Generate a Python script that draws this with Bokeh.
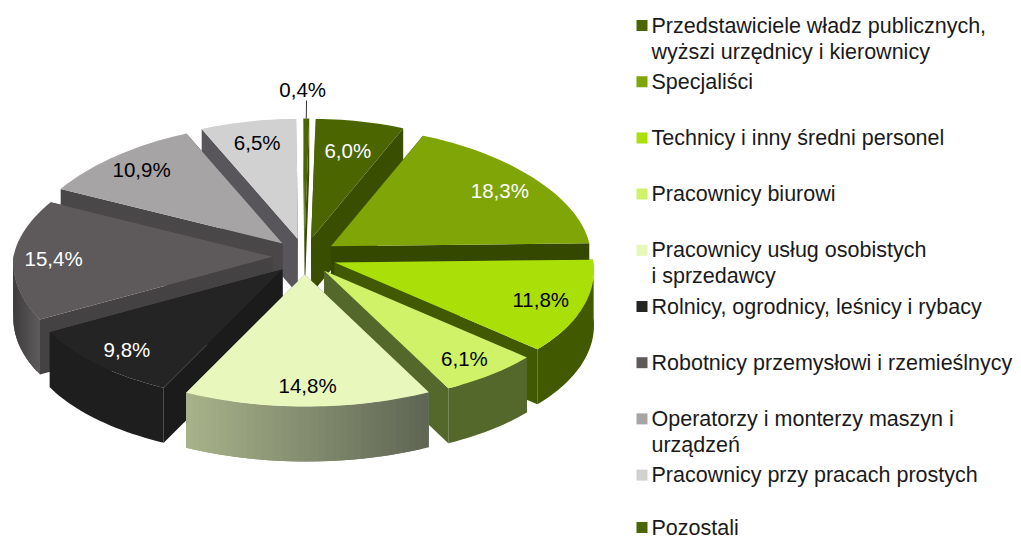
import math
from bokeh.plotting import figure
from bokeh.models import Range1d
from bokeh.core.properties import value
from bokeh.embed import file_html
from bokeh.resources import INLINE

# --- data (clockwise from the top)
share = [6.0, 18.3, 11.8, 6.1, 14.8, 9.8, 15.4, 10.9, 6.5, 0.4]
labels = ["6,0%", "18,3%", "11,8%", "6,1%", "14,8%", "9,8%", "15,4%", "10,9%", "6,5%", "0,4%"]
legend_rows = [
    ["Przedstawiciele władz publicznych,", "wyższi urzędnicy i kierownicy"],
    ["Specjaliści"],
    ["Technicy i inny średni personel"],
    ["Pracownicy biurowi"],
    ["Pracownicy usług osobistych", "i sprzedawcy"],
    ["Rolnicy, ogrodnicy, leśnicy i rybacy"],
    ["Robotnicy przemysłowi  i rzemieślnycy"],
    ["Operatorzy i monterzy maszyn i", "urządzeń"],
    ["Pracownicy przy pracach prostych"],
    ["Pozostali"],
]
# --- styles
top_col = ["#4B6600", "#7FA506", "#AADF08", "#CFF268", "#E8F7BC", "#252424", "#5E5A5B", "#A6A4A5", "#D2D1D2", "#4B6600"]
side_col = ["#3A4E00", "#344800", "#415900", "#55682B", "#7E8770", "#1B1B1B", "#454243", "#4A4748", "#58565A", "#3A4E00"]
rim_from = ["#3A4E00", "#344800", "#415900", "#55682B", "#5E6553", "#1E1E1E", "#5E5B5C", "#4A4748", "#58565A", "#3A4E00"]
rim_to = ["#3A4E00", "#344800", "#415900", "#55682B", "#A8B38A", "#1E1E1E", "#3F3C3D", "#4A4748", "#58565A", "#3A4E00"]
legend_col = ["#4B6600", "#7FA506", "#AADF08", "#CFF268", "#E8F7BC", "#252424", "#5E5A5B", "#A6A4A5", "#D2D1D2", "#4B6600"]
label_col = ["white", "white", "black", "black", "black", "white", "white", "black", "black", "black"]
label_r = [0.75, 0.83, 0.83, 0.84, 0.84, 0.84, 0.845, 0.845, 0.82, 1.24]
label_shift = [0, 0, 0, 0, 0, 0, 0, 0, 0, -4]
FONT = "Liberation Sans"
W, H = 1021, 539
CX, CY = 304, 256
EX, EY = 32, 18
DEPTH = 55
ROT = 1.1
SKEW = 1.5


def mix(c1, c2, t):
    a = [int(c1[i:i + 2], 16) for i in (1, 3, 5)]
    b = [int(c2[i:i + 2], 16) for i in (1, 3, 5)]
    return "#%02x%02x%02x" % tuple(round(p + (q - p) * t) for p, q in zip(a, b))


def plane(theta, r=1.0):
    """Project a point of the pie's plane: wider and deeper towards the viewer."""
    t = math.radians(theta)
    y = math.cos(t)
    ax = 259 - 22 * y if y > 0 else 259 - 13 * y
    by = 120 if y > 0 else 132
    return r * ax * math.sin(t) + SKEW * max(0, -y), -r * by * y


total = sum(share)
bounds = [ROT]
for s in share[:-1]:
    bounds.append(bounds[-1] + s * 360 / total)
slices = []
for i, s in enumerate(share):
    a0 = bounds[i]
    a1 = a0 + s * 360 / total
    if i == len(share) - 1:
        a0, a1 = a0 - 360, a1 - 360
    slices.append((i, a0, a1, (a0 + a1) / 2))

xs, ys, cols = [], [], []


def add(px, py, c):
    xs.append(px)
    ys.append(py)
    cols.append(c)


lab_x, lab_y = [], []
apex = {}
for i, a0, a1, mid in slices:
    m = math.radians(mid)
    apex[i] = (CX + EX * math.sin(m), CY - EY * math.cos(m))
    dx, dy = plane(mid, label_r[i])
    lab_x.append(apex[i][0] + dx + label_shift[i])
    lab_y.append(apex[i][1] + dy)

for i, a0, a1, mid in sorted(slices, key=lambda z: -math.cos(math.radians(z[3]))):
    ox, oy = apex[i]
    n = max(3, int((a1 - a0) / 1.5))
    ang = [a0 + (a1 - a0) * k / n for k in range(n + 1)]
    pts = [(ox + plane(t)[0], oy + plane(t)[1]) for t in ang]
    # radial walls
    for p_ in (pts[0], pts[-1]):
        add([ox, p_[0], p_[0], ox], [oy, p_[1], p_[1] + DEPTH, oy + DEPTH], side_col[i])
    # rim, only where it faces the viewer; each band overlaps the next one so no seam shows
    front = [k for k in range(n + 1) if math.cos(math.radians(ang[k])) < 0.02]
    if len(front) > 1:
        x_lo, x_hi = min(pts[k][0] for k in front), max(pts[k][0] for k in front)
        if rim_from[i] == rim_to[i]:
            top_edge = [pts[k] for k in front]
            add([q[0] for q in top_edge] + [q[0] for q in reversed(top_edge)],
                [q[1] for q in top_edge] + [q[1] + DEPTH for q in reversed(top_edge)], rim_from[i])
        else:
            for a, b in zip(front[:-1], front[1:]):
                q0, q1 = pts[a], pts[min(b + 1, front[-1])]
                f = ((pts[a][0] + pts[b][0]) / 2 - x_lo) / max(1, x_hi - x_lo)
                add([q0[0], q1[0], q1[0], q0[0]], [q0[1], q1[1], q1[1] + DEPTH, q0[1] + DEPTH],
                    mix(rim_to[i], rim_from[i], f))
    # top face
    add([ox] + [q[0] for q in pts], [oy] + [q[1] for q in pts], top_col[i])

p = figure(width=W, height=H, x_range=Range1d(0, W), y_range=Range1d(H, 0),
           output_backend="svg", toolbar_location=None, min_border=0,
           x_axis_location=None, y_axis_location=None, outline_line_color=None)
p.grid.visible = False
p.patches(xs, ys, fill_color=cols, line_color=None)

# leader of the smallest slice
sx, sy = apex[9]
p.segment([sx + plane(slices[9][3], 1.0)[0]], [sy + plane(slices[9][3], 1.0)[1]],
          [sx + plane(slices[9][3], 1.15)[0]], [sy + plane(slices[9][3], 1.15)[1]],
          line_color="#333333", line_width=1)

p.text(lab_x, lab_y, text=labels, text_color=label_col, text_font=value(FONT),
       text_font_size="20.5px", text_align="center", text_baseline="middle")

# legend
STEP = 56.2
LEGEND_BOTTOM = 527  # the last row stays wholly on the page
leg_x, leg_y, leg_t = [], [], []
sq_x, sq_y = [], []
for i, row in enumerate(legend_rows):
    y0 = min(25 + i * STEP, LEGEND_BOTTOM)
    sq_x.append(641.5)
    sq_y.append(y0)
    for j, line in enumerate(row):
        leg_x.append(651)
        leg_y.append(y0 + j * 26)
        leg_t.append(line)
p.rect(sq_x, sq_y, width=11, height=11, fill_color=legend_col, line_color=None)
p.text(leg_x, leg_y, text=leg_t, text_color="#1a1a1a", text_font=value(FONT),
       text_font_size="21.5px", text_align="left", text_baseline="middle")

open("out.html", "w").write(file_html(p, INLINE))
